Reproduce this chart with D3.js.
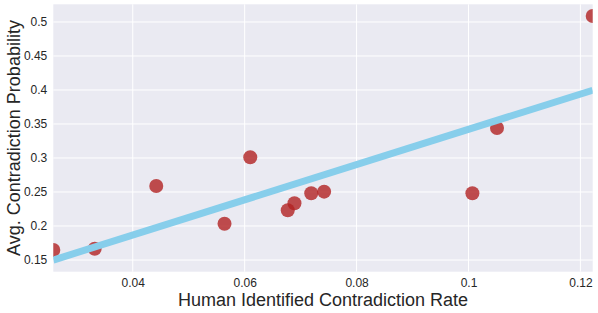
<!DOCTYPE html>
<html>
<head>
<meta charset="utf-8">
<script src="https://cdn.jsdelivr.net/npm/d3@7"></script>
<style>
  body { margin: 0; background: #fff; }
  svg { display: block; font-family: "Liberation Sans", Arial, sans-serif; }
</style>
</head>
<body>
<script>
// human identified contradiction rate vs avg. contradiction probability
const humanRate = [0.0258, 0.0332, 0.0442, 0.0564, 0.0610, 0.0677, 0.0689, 0.0719, 0.0742, 0.1007, 0.1051, 0.1222];
const avgProb   = [0.1647, 0.1666, 0.2588, 0.2034, 0.3010, 0.2231, 0.2334, 0.2481, 0.2505, 0.2481, 0.3441, 0.5088];
const xTicks = [0.04, 0.06, 0.08, 0.1, 0.12];
const yTicks = [0.15, 0.2, 0.25, 0.3, 0.35, 0.4, 0.45, 0.5];

const width = 598, height = 313;
const margin = { top: 4.3, right: 5.3, bottom: 41.3, left: 53.3 };
const w = width - margin.left - margin.right;
const h = height - margin.top - margin.bottom;

const points = humanRate.map((x, i) => ({ x, y: avgProb[i] }));

const svg = d3.select('body').append('svg')
  .attr('width', width)
  .attr('height', height);

const g = svg.append('g')
  .attr('transform', `translate(${margin.left},${margin.top})`);

const x = d3.scaleLinear()
  .domain(d3.extent(humanRate))
  .range([0, w]);

const y = d3.scaleLinear()
  .domain([0.1328, 0.526])
  .range([h, 0]);

// background + grid
g.append('rect')
  .attr('width', w).attr('height', h)
  .attr('fill', '#eaeaf2');

g.append('defs').append('clipPath').attr('id', 'clip')
  .append('rect').attr('width', w).attr('height', h);

g.append('g')
  .selectAll('line')
  .data(yTicks)
  .join('line')
  .attr('x1', 0).attr('x2', w)
  .attr('y1', d => y(d)).attr('y2', d => y(d))
  .attr('stroke', '#fff').attr('stroke-width', 1);

g.append('g')
  .selectAll('line')
  .data(xTicks)
  .join('line')
  .attr('y1', 0).attr('y2', h)
  .attr('x1', d => x(d)).attr('x2', d => x(d))
  .attr('stroke', '#fff').attr('stroke-width', 1);

// axes (labels only, no spines)
const xAxis = g.append('g')
  .attr('transform', `translate(0,${h})`)
  .call(d3.axisBottom(x).tickValues(xTicks).tickSize(0).tickPadding(7).tickFormat(d => String(+d.toFixed(2))));
const yAxis = g.append('g')
  .call(d3.axisLeft(y).tickValues(yTicks).tickSize(0).tickPadding(6).tickFormat(d => String(+d.toFixed(2))));
[xAxis, yAxis].forEach(a => {
  a.select('.domain').remove();
  a.selectAll('text')
    .attr('font-size', 12)
    .attr('font-family', '"Liberation Sans", Arial, sans-serif')
    .attr('fill', '#262626');
});

// least squares fit
const mx = d3.mean(humanRate), my = d3.mean(avgProb);
const slope = d3.sum(points, p => (p.x - mx) * (p.y - my)) / d3.sum(points, p => (p.x - mx) ** 2);
const intercept = my - slope * mx;
const fitLine = x.domain().map(v => ({ x: v, y: intercept + slope * v }));

const plot = g.append('g').attr('clip-path', 'url(#clip)');

plot.selectAll('circle')
  .data(points)
  .join('circle')
  .attr('cx', d => x(d.x))
  .attr('cy', d => y(d.y))
  .attr('r', 7)
  .attr('fill', '#b22222')
  .attr('fill-opacity', 0.8);

plot.append('path')
  .datum(fitLine)
  .attr('d', d3.line().x(d => x(d.x)).y(d => y(d.y)))
  .attr('fill', 'none')
  .attr('stroke', '#87ceeb')
  .attr('stroke-width', 7);

// axis titles
svg.append('text')
  .attr('x', margin.left + w / 2)
  .attr('y', 306)
  .attr('text-anchor', 'middle')
  .attr('font-size', 18)
  .attr('fill', '#262626')
  .text('Human Identified Contradiction Rate');

svg.append('text')
  .attr('transform', `translate(20,${margin.top + h / 2}) rotate(-90)`)
  .attr('text-anchor', 'middle')
  .attr('font-size', 18)
  .attr('fill', '#262626')
  .text('Avg. Contradiction Probability');
</script>
</body>
</html>
